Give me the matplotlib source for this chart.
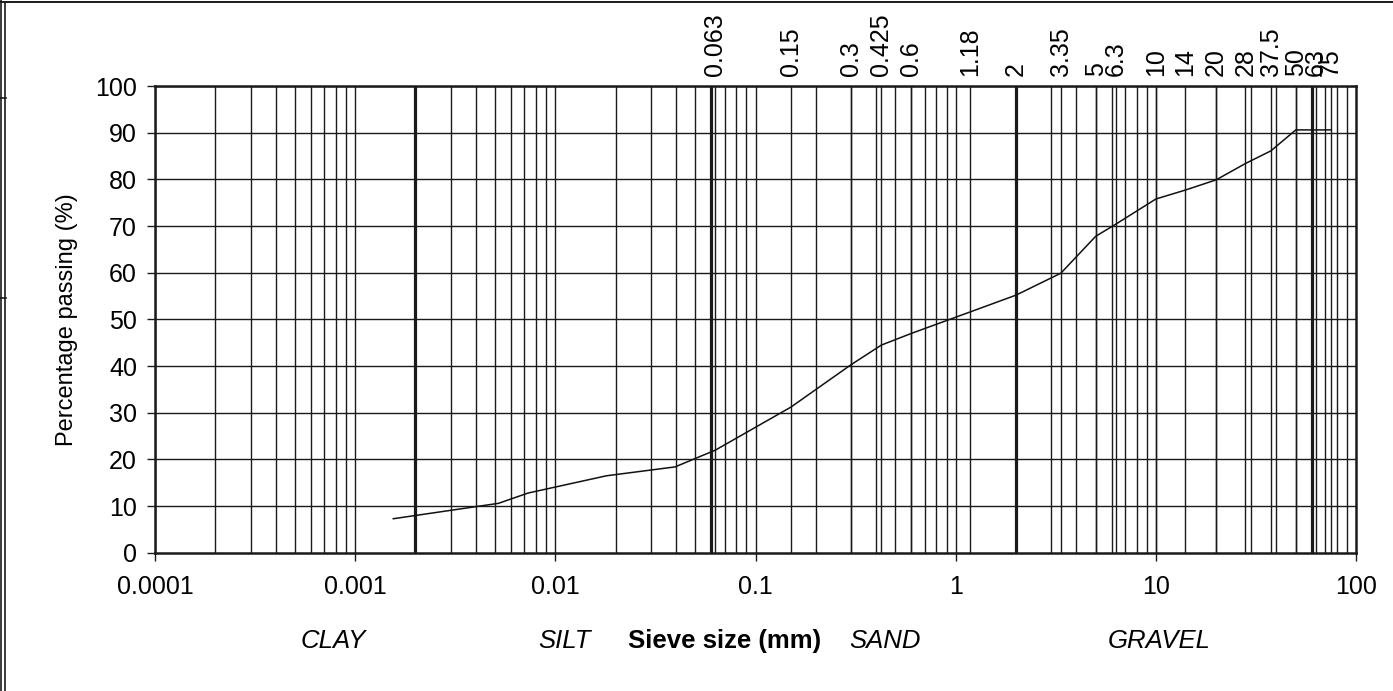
import matplotlib
matplotlib.use("Agg")
import matplotlib.pyplot as plt
from matplotlib.lines import Line2D
import numpy as np

plt.rcParams['font.family'] = ['Liberation Sans', 'DejaVu Sans']

# grading curve (sieve + sedimentation results)
size_mm = [0.00155, 0.0052, 0.0073, 0.018, 0.0396, 0.063, 0.15, 0.3, 0.425, 0.6,
           1.18, 2, 3.35, 5, 6.3, 10, 14, 20, 28, 37.5, 50, 63, 75]
passing = [7.3, 10.6, 12.8, 16.5, 18.4, 22.0, 31.2, 40.3, 44.5, 47.0,
           51.6, 55.2, 59.9, 67.8, 70.4, 75.8, 77.7, 79.9, 83.4, 86.1, 90.6, 90.6, 90.6]

# sieve apertures shown along the top
sieves = [0.063, 0.15, 0.3, 0.425, 0.6, 1.18, 2, 3.35, 5, 6.3,
          10, 14, 20, 28, 37.5, 50, 63, 75]
sieve_labels = ['0.063', '0.15', '0.3', '0.425', '0.6', '1.18', '2', '3.35', '5', '6.3',
                '10', '14', '20', '28', '37.5', '50', '63', '75']

# clay / silt / sand / gravel boundaries
boundaries = [0.002, 0.06, 2, 60]

x_ticks = [0.0001, 0.001, 0.01, 0.1, 1, 10, 100]
x_tick_labels = ['0.0001', '0.001', '0.01', '0.1', '1', '10', '100']
y_ticks = list(range(0, 101, 10))

grid_col = '#1a1a1a'

fig = plt.figure(figsize=(13.93, 6.91), dpi=100)
ax = fig.add_axes([0.1113, 0.2, 0.8622, 0.6755])
ax.set_xscale('log')
ax.set_xlim(1e-4, 100)
ax.set_ylim(0, 100)

# log-cycle grid
for e in range(-4, 2):
    for k in range(1, 10):
        ax.axvline(k * 10.0 ** e, color=grid_col, lw=1.0, zorder=1)
for s in sieves:
    ax.axvline(s, color=grid_col, lw=1.0, zorder=1)
for b in boundaries:
    ax.axvline(b, color=grid_col, lw=2.3, zorder=2)
for y in y_ticks[1:]:
    ax.axhline(y, color=grid_col, lw=1.0, zorder=1)

ax.plot(size_mm, passing, color='#111111', lw=1.1, zorder=3)

ax.set_xticks(x_ticks)
ax.set_xticklabels(x_tick_labels)
ax.xaxis.set_minor_locator(matplotlib.ticker.NullLocator())
ax.set_yticks(y_ticks)
ax.tick_params(axis='both', direction='out', length=6, width=1.0, color=grid_col,
               labelsize=18)
ax.tick_params(axis='x', pad=10)
ax.tick_params(axis='y', pad=7)
for sp in ax.spines.values():
    sp.set_linewidth(1.8)
    sp.set_color(grid_col)

ax.set_ylabel('Percentage passing (%)', fontsize=17, labelpad=12)

# sieve sizes on top
ax_top = ax.twiny()
ax_top.set_xscale('log')
ax_top.set_xlim(ax.get_xlim())
ax_top.set_xticks(sieves)
ax_top.set_xticklabels(sieve_labels, rotation=90, fontsize=18)
ax_top.xaxis.set_minor_locator(matplotlib.ticker.NullLocator())
ax_top.tick_params(axis='x', length=0, pad=7)
for sp in ax_top.spines.values():
    sp.set_visible(False)

# soil classes below the axis
fy = 1 - 641 / 691
fig.text(333 / 1393, fy, 'CLAY', fontsize=18.5, style='italic', ha='center', va='center')
fig.text(565 / 1393, fy, 'SILT', fontsize=18.5, style='italic', ha='center', va='center')
fig.text(725 / 1393, fy, 'Sieve size (mm)', fontsize=18.5, weight='bold', ha='center', va='center')
fig.text(885 / 1393, fy, 'SAND', fontsize=18.5, style='italic', ha='center', va='center')
fig.text(1159 / 1393, fy, 'GRAVEL', fontsize=18.5, style='italic', ha='center', va='center')

# page frame
fig.add_artist(Line2D([0, 1], [0.997, 0.997], color=grid_col, lw=1.4, transform=fig.transFigure))
fig.add_artist(Line2D([0.0008, 0.0008], [0, 1], color=grid_col, lw=1.2, transform=fig.transFigure))
fig.add_artist(Line2D([0.0038, 0.0038], [0, 0.997], color=grid_col, lw=1.2, transform=fig.transFigure))
for yy in [1 - 98 / 691, 1 - 298 / 691]:
    fig.add_artist(Line2D([0, 0.004], [yy, yy], color=grid_col, lw=1.2, transform=fig.transFigure))

fig.savefig('out.png', dpi=100)
